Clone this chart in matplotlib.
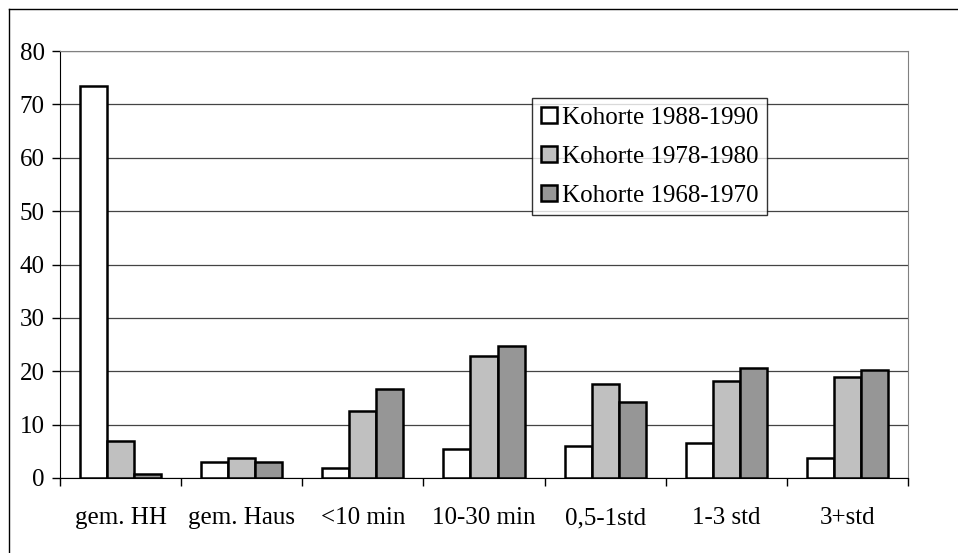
import matplotlib
matplotlib.use('Agg')
import matplotlib.pyplot as plt
import numpy as np
from matplotlib.lines import Line2D

categories = ['gem. HH', 'gem. Haus', '<10 min', '10-30 min', '0,5-1std', '1-3 std', '3+std']
series_names = ['Kohorte 1988-1990', 'Kohorte 1978-1980', 'Kohorte 1968-1970']
k1988 = [73.5, 3.0, 1.9, 5.5, 6.0, 6.5, 3.8]
k1978 = [6.9, 3.8, 12.6, 22.8, 17.6, 18.2, 18.9]
k1968 = [0.7, 3.0, 16.6, 24.7, 14.3, 20.7, 20.3]
colors = ['#FFFFFF', '#C0C0C0', '#969696']

plt.rcParams['font.family'] = ['Liberation Serif', 'DejaVu Serif']

fig = plt.figure(figsize=(9.58, 5.53), dpi=100)
ax = fig.add_axes([60/958, 75/553, 848/958, 427/553])

x = np.arange(len(categories))
w = 0.223
for i, (vals, name) in enumerate(zip([k1988, k1978, k1968], series_names)):
    ax.bar(x + (i - 1) * w, vals, w, color=colors[i], edgecolor='black',
           linewidth=1.8, label=name, zorder=3)

ax.set_xlim(-0.5, len(categories) - 0.5)
ax.set_ylim(0, 80)
ax.set_yticks(range(0, 81, 10))
ax.yaxis.grid(True, color='#444444', linewidth=0.9, zorder=0)
ax.set_xticks(x)
ax.set_xticklabels(categories, fontsize=18)
ax.tick_params(axis='x', length=0, pad=21)
ax.set_xticks(np.arange(-0.5, len(categories), 1), minor=True)
ax.tick_params(axis='x', which='minor', length=6, width=1, direction='out')
ax.tick_params(axis='y', labelsize=18, length=6, width=1, direction='out', pad=5)

ax.spines['left'].set_color('black')
ax.spines['bottom'].set_color('black')
ax.spines['top'].set_color('#808080')
ax.spines['right'].set_color('#808080')

leg = ax.legend(loc='upper left', bbox_to_anchor=((532 - 60) / 848, (478 - 98) / 427),
                fontsize=18, frameon=True, fancybox=False, edgecolor='black',
                handlelength=0.65, handleheight=0.65, handletextpad=0.2,
                labelspacing=0.68, borderpad=0.34, borderaxespad=0)
leg.get_frame().set_linewidth(1)
for h in leg.legend_handles:
    h.set_linewidth(1.8)

# outer frame of the chart area
fig.add_artist(Line2D([9/958, 9/958], [0, 1 - 9/553], transform=fig.transFigure, color='black', lw=1))
fig.add_artist(Line2D([9/958, 1], [1 - 9/553, 1 - 9/553], transform=fig.transFigure, color='black', lw=1))

fig.savefig('out.png', dpi=100)
